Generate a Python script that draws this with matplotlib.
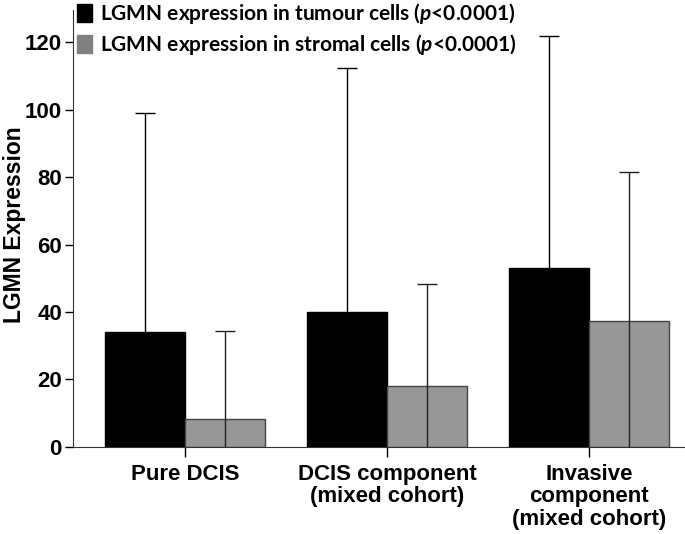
import matplotlib.pyplot as plt
import numpy as np
from matplotlib.patches import Patch

# Values
categories = ['Pure DCIS', 'DCIS component\n(mixed cohort)', 'Invasive\ncomponent\n(mixed cohort)']
tumour_mean = [34.0, 40.0, 53.0]
tumour_upper = [99.0, 112.3, 121.8]
stromal_mean = [8.3, 18.1, 37.3]
stromal_upper = [34.4, 48.3, 81.5]
legend_labels = [r'LGMN expression in tumour cells ($p$<0.0001)',
                 r'LGMN expression in stromal cells ($p$<0.0001)']

plt.rcParams['mathtext.fontset'] = 'custom'
plt.rcParams['mathtext.it'] = 'Lato:italic:bold'
plt.rcParams['mathtext.rm'] = 'Lato:bold'

narrow = ['Liberation Sans Narrow', 'Liberation Sans']

fig = plt.figure(figsize=(6.85, 5.34), dpi=100)
ax = fig.add_axes([0.1066, 0.163, 0.8934, 0.818])

x = np.arange(len(categories))
w = 0.395
ax.bar(x - w / 2, tumour_mean, w, color='black', edgecolor='black', linewidth=1)
ax.bar(x + w / 2, stromal_mean, w, color='#979797', edgecolor='#444444', linewidth=1)

# error bars: line from zero up to the upper limit, cap on top
cap = 0.05
ax.vlines(x - w / 2, 0, tumour_upper, color='black', linewidth=1)
ax.hlines(tumour_upper, x - w / 2 - cap, x - w / 2 + cap, color='black', linewidth=1)
ax.vlines(x + w / 2, 0, stromal_upper, color='#222222', linewidth=1)
ax.hlines(stromal_upper, x + w / 2 - cap, x + w / 2 + cap, color='#222222', linewidth=1)

ax.set_xlim(-0.554, 2.475)
ax.set_ylim(0, 129.5)
ax.set_yticks([0, 20, 40, 60, 80, 100, 120])
ax.set_xticks(x)
ax.set_xticklabels(categories, fontsize=16, fontweight='bold', family=narrow, linespacing=1.1)
ax.tick_params(axis='y', labelsize=16, length=6, width=1, direction='out', pad=2)
ax.tick_params(axis='x', length=7, width=1, direction='out', pad=5)
for lab in ax.get_yticklabels():
    lab.set_family(narrow)
    lab.set_fontweight('bold')
ax.spines['top'].set_visible(False)
ax.spines['right'].set_visible(False)
ax.spines['left'].set_color('#333333')
ax.spines['bottom'].set_color('#333333')
fig.text(15 / 685, 1 - 225 / 534, 'LGMN Expression', rotation=90, ha='center', va='center',
         fontsize=16.5, fontweight='bold', family='Liberation Sans')

handles = [Patch(facecolor='black', edgecolor='black'),
           Patch(facecolor='#808080', edgecolor='#808080')]
fig.legend(handles, legend_labels, loc='upper left', bbox_to_anchor=(0.112, 0.998),
           frameon=False, handlelength=0.72, handleheight=0.96, handletextpad=0.4,
           labelspacing=0.3, borderaxespad=0, borderpad=0.0,
           prop={'family': 'Lato', 'weight': 'bold', 'size': 15})

plt.savefig('out.png', dpi=100)
plt.close()
